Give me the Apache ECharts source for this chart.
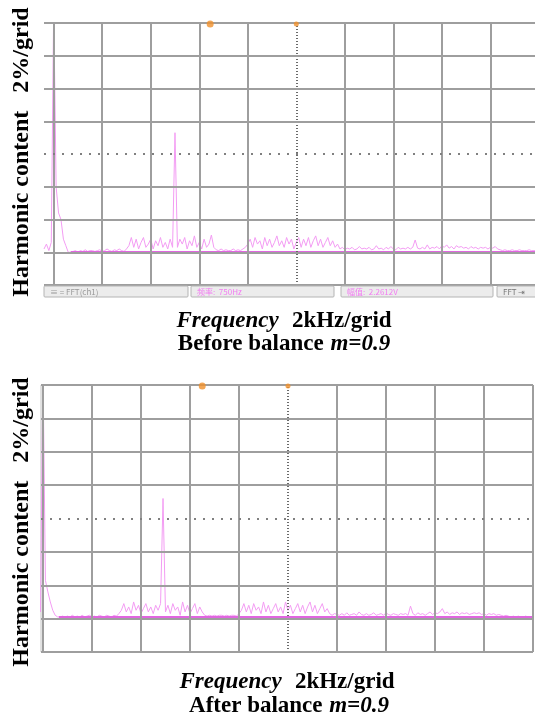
<!DOCTYPE html>
<html><head><meta charset="utf-8">
<script src="https://cdn.jsdelivr.net/npm/echarts@6/dist/echarts.min.js"></script>
<style>html,body{margin:0;padding:0;background:#fff}#c{width:535px;height:723px}</style>
</head><body><div id="c"></div>
<script>
// ---- data (kHz on x, % harmonic content on y) ----
const xTicks = [0, 2, 4, 6, 8, 10, 12, 14, 16, 18, 20];
const yTicks = [0, 2, 4, 6, 8, 10, 12, 14, 16];

// Before balance: samples every 0.1 kHz starting at -0.4 kHz
const beforeStart = -0.4, beforeStep = 0.1;
const beforeValues = [
  2.2, 2.5, 2.1, 2.6,
  17,
  6.0, 4.4, 4.0, 2.8, 2.4, 2.0, 2.0,
  2.05, 2.1, 2.0, 2.1, 2.05, 2.15, 2.05, 2.1, 2.1, 2.05, 2.1, 2.15, 2.05, 2.1, 2.2, 2.1, 2.05, 2.15, 2.1, 2.2, 2.1, 2.05, 2.2, 2.4,
  2.9, 2.3, 2.8, 2.2, 2.6, 2.9, 2.3, 2.5, 2.8, 2.2, 2.7, 2.4, 2.9, 2.3, 2.6, 2.2, 2.8, 2.3,
  9.3,
  2.3, 2.8, 2.5, 2.9, 2.2, 2.7, 2.4, 3.0, 2.3, 2.6, 2.2, 2.8, 2.3, 2.5, 3.05, 2.3,
  2.15, 2.1, 2.2, 2.1, 2.15, 2.1, 2.1, 2.2, 2.1, 2.15, 2.1, 2.2, 2.3, 2.5,
  2.8, 2.3, 2.9, 2.5, 2.7, 2.2, 2.9, 2.4, 2.8, 2.3, 2.6, 3.0, 2.4, 2.7, 2.3, 2.9, 2.5, 2.8, 2.2, 2.6,
  2.9, 2.3, 2.8, 2.4, 2.9, 2.3, 2.7, 3.0, 2.4, 2.8, 2.3, 2.6, 2.9, 2.4, 2.7, 2.3, 2.5,
  2.2, 2.3, 2.15, 2.25, 2.2, 2.3, 2.15, 2.2, 2.35, 2.2,
  2.25, 2.2, 2.3, 2.15, 2.2, 2.4, 2.2, 2.25, 2.15, 2.3,
  2.2, 2.35, 2.2, 2.15, 2.3, 2.2, 2.25, 2.2, 2.3, 2.2,
  2.3, 2.75, 2.25, 2.2, 2.3, 2.2, 2.45, 2.2, 2.3, 2.25,
  2.35, 2.2, 2.4, 2.3, 2.45, 2.25, 2.35, 2.2, 2.4, 2.3,
  2.35, 2.25, 2.3, 2.2, 2.35, 2.25, 2.3, 2.2, 2.3, 2.25,
  2.3, 2.2, 2.3, 2.25, 2.35, 2.2, 2.15, 2.1, 2.15, 2.1,
  2.1, 2.15, 2.1, 2.1, 2.15, 2.1, 2.1, 2.1, 2.15, 2.1,
  2.1, 2.1
];
const beforeBaseline = [[0.7, 2.02], [19.9, 2.02]];
const beforeMarkers = [[6.45, 16], [10, 16]];

// After balance: samples every 0.1 kHz starting at -0.1 kHz
const afterStart = -0.1, afterStep = 0.1;
const afterValues = [
  2.4,
  17,
  4.3, 3.6, 3.0, 2.5, 2.2, 2.1,
  2.1, 2.15, 2.1, 2.15, 2.1, 2.2, 2.1, 2.15, 2.1, 2.2, 2.1, 2.15, 2.2, 2.1, 2.15, 2.1, 2.2, 2.15, 2.1, 2.2, 2.15, 2.1, 2.2, 2.15, 2.3, 2.5,
  2.9, 2.4, 2.7, 2.3, 3.0, 2.5, 2.8, 2.3, 2.6, 2.9, 2.4, 2.7, 2.3, 2.8, 2.5, 2.9,
  9.2,
  2.4, 2.8, 2.3, 2.9, 2.5, 2.7, 2.2, 3.0, 2.4, 2.8, 2.3, 2.6, 2.9, 2.3, 2.7, 2.4,
  2.2, 2.15, 2.2, 2.15, 2.2, 2.15, 2.2, 2.2, 2.15, 2.2, 2.15, 2.2, 2.2, 2.15, 2.3, 2.5, 2.9,
  2.4, 2.8, 2.3, 2.9, 2.5, 2.7, 2.3, 3.0, 2.4, 2.8, 2.3, 2.6, 2.9, 2.4, 2.7, 2.3, 3.0, 2.5, 2.8, 2.3,
  2.6, 2.9, 2.4, 2.8, 2.3, 2.7, 3.0, 2.4, 2.8, 2.3, 2.6, 2.9, 2.4, 2.6,
  2.3, 2.2, 2.3, 2.25, 2.2, 2.3, 2.2, 2.35, 2.2, 2.25,
  2.3, 2.2, 2.4, 2.25, 2.2, 2.3, 2.2, 2.25, 2.35, 2.2,
  2.25, 2.3, 2.2, 2.35, 2.25, 2.2, 2.3, 2.25, 2.2, 2.3,
  2.25, 2.3, 2.2, 2.75, 2.3, 2.2, 2.35, 2.25, 2.3, 2.2,
  2.3, 2.4, 2.25, 2.35, 2.3, 2.4, 2.6, 2.3, 2.4, 2.25,
  2.35, 2.3, 2.4, 2.25, 2.35, 2.3, 2.35, 2.25, 2.3, 2.35,
  2.3, 2.35, 2.25, 2.3, 2.2, 2.3, 2.25, 2.3, 2.2, 2.25,
  2.2, 2.15, 2.2, 2.15, 2.1, 2.15, 2.1, 2.15, 2.1, 2.1,
  2.15, 2.1, 2.1, 2.1
];
const afterBaseline = [[0.65, 2.1], [20, 2.1]];
const afterMarkers = [[6.5, 16], [10, 16]];

const yTitle = 'Harmonic content   2%/grid';
const xTitleFreq = 'Frequency';
const xTitleUnit = '2kHz/grid';
const beforeLabel = 'Before balance';
const afterLabel = 'After balance';
const mLabel = 'm=0.9';
const statusTexts = ['\u2261 = FFT(ch1)', '\u9891\u7387:  750Hz', '\u5e45\u503c:  2.2612V', 'FFT \u21e5'];

// ---- build ----
function toPairs(start, step, vals) { return vals.map((v, i) => [+(start + i * step).toFixed(2), v]); }

const GRID_C = '#9e9e9e';
function gridLines(xi, yi) {
  return {
    type: 'line', xAxisIndex: xi, yAxisIndex: yi, data: [], z: 1, silent: true,
    markLine: {
      silent: true, symbol: 'none', animation: false, label: { show: false },
      lineStyle: { color: GRID_C, width: 2, type: 'solid' },
      data: [].concat(
        xTicks.map(v => ({ xAxis: v, lineStyle: v === 10 ? { color: '#6a6a6a', width: 2, type: [1, 2] } : { color: GRID_C, width: 2, type: 'solid' } })),
        yTicks.map(v => ({ yAxis: v, lineStyle: v === 8 ? { color: '#808080', width: 2, type: [2, 7] } : { color: GRID_C, width: 2, type: 'solid' } }))
      )
    }
  };
}
function trace(xi, yi, data) {
  return { type: 'line', xAxisIndex: xi, yAxisIndex: yi, data, symbol: 'none', z: 3, animation: false,
    lineStyle: { color: '#f39cf3', width: 1 } };
}
function base(xi, yi, data) {
  return { type: 'line', xAxisIndex: xi, yAxisIndex: yi, data, symbol: 'none', z: 4, animation: false,
    lineStyle: { color: '#e066e0', width: 2 } };
}
function markers(xi, yi, data) {
  return { type: 'scatter', xAxisIndex: xi, yAxisIndex: yi, data, z: 5, clip: false, animation: false,
    symbol: 'circle', symbolSize: (v, p) => p.dataIndex === 0 ? 7 : 5, symbolOffset: [0, 1],
    itemStyle: { color: '#f0902a' } };
}

const serif = 'Liberation Serif, Times New Roman, serif';
const FS = 23;
const richT = {
  i: { fontFamily: serif, fontStyle: 'italic', fontWeight: 'bold', fontSize: FS, fill: '#000' },
  b: { fontFamily: serif, fontWeight: 'bold', fontSize: FS, fill: '#000' }
};
function txt(x, y, text) {
  return { type: 'text', x, y, z: 10, style: { text, rich: richT, align: 'center', verticalAlign: 'middle', textAlign: 'center', textVerticalAlign: 'middle' } };
}
function ytxt(x, y) {
  return { type: 'text', x, y, rotation: Math.PI / 2, z: 10,
    style: { text: yTitle, font: 'bold 24px ' + serif, fill: '#000', textAlign: 'center', textVerticalAlign: 'middle', align: 'center', verticalAlign: 'middle' } };
}
function statusBox(x, w, t, color) {
  return [
    { type: 'rect', shape: { x, y: 286, width: w, height: 11, r: 1 }, style: { fill: '#ececec', stroke: '#b4b4b4', lineWidth: 1 }, z: 8 },
    { type: 'text', x: x + 6, y: 291.5, z: 9, style: { text: t, font: '8px Noto Sans CJK SC, sans-serif', fill: color, textVerticalAlign: 'middle', verticalAlign: 'middle' } }
  ];
}

const axisOff = { show: false };
const option = {
  animation: false,
  backgroundColor: '#fff',
  grid: [
    { left: 44, top: 23, width: 491, height: 262, show: false },
    { left: 41, top: 385, width: 492, height: 267, show: true, borderColor: '#c4c4c4', borderWidth: 1 }
  ],
  xAxis: [
    { gridIndex: 0, type: 'value', min: -0.4, max: 19.84, axisLine: axisOff, axisTick: axisOff, axisLabel: axisOff, splitLine: axisOff },
    { gridIndex: 1, type: 'value', min: -0.08, max: 20, axisLine: axisOff, axisTick: axisOff, axisLabel: axisOff, splitLine: axisOff }
  ],
  yAxis: [
    { gridIndex: 0, type: 'value', min: 0, max: 16, axisLine: axisOff, axisTick: axisOff, axisLabel: axisOff, splitLine: axisOff },
    { gridIndex: 1, type: 'value', min: 0, max: 16, axisLine: axisOff, axisTick: axisOff, axisLabel: axisOff, splitLine: axisOff }
  ],
  series: [
    gridLines(0, 0), trace(0, 0, toPairs(beforeStart, beforeStep, beforeValues)), base(0, 0, beforeBaseline), markers(0, 0, beforeMarkers),
    gridLines(1, 1), trace(1, 1, toPairs(afterStart, afterStep, afterValues)), base(1, 1, afterBaseline), markers(1, 1, afterMarkers)
  ],
  graphic: [].concat(
    statusBox(44, 144, statusTexts[0], '#999'),
    statusBox(191, 143, statusTexts[1], '#f27cf2'),
    statusBox(341, 152, statusTexts[2], '#f27cf2'),
    statusBox(497, 45, statusTexts[3], '#777'),
    [
      ytxt(22, 152),
      ytxt(22, 522),
      txt(284, 321, '{i|' + xTitleFreq + '}    {b|' + xTitleUnit + '}'),
      txt(284, 344, '{b|' + beforeLabel + '}  {i|' + mLabel + '}'),
      txt(287, 682, '{i|' + xTitleFreq + '}    {b|' + xTitleUnit + '}'),
      txt(289, 706, '{b|' + afterLabel + '}  {i|' + mLabel + '}')
    ]
  )
};
const chart = echarts.init(document.getElementById('c'), null, { renderer: 'canvas' });
chart.setOption(option);
</script>
</body></html>
